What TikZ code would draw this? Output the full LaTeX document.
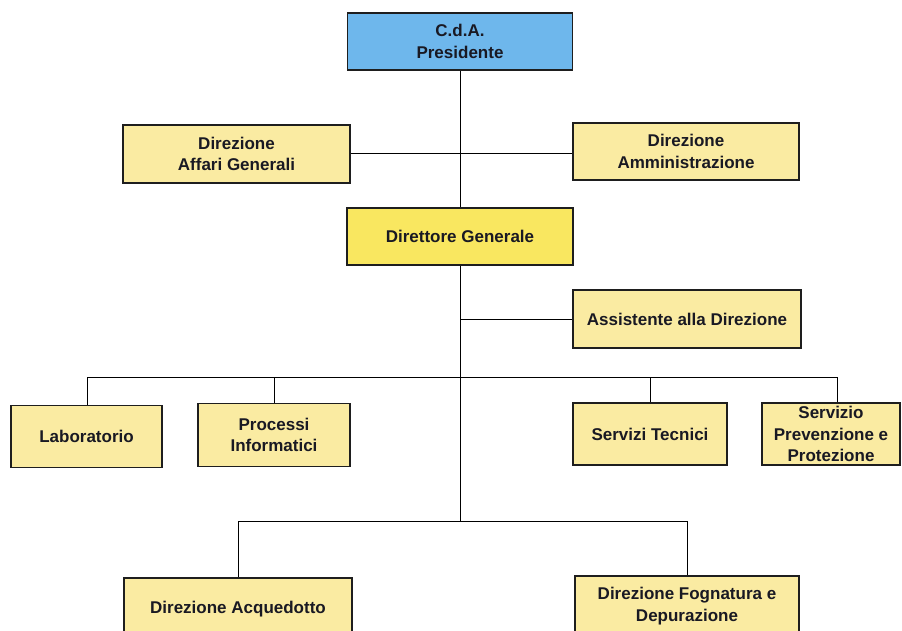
\documentclass[tikz,border=0pt]{standalone}
\usepackage{fontspec}
\setmainfont{Liberation Sans}
\definecolor{boxblue}{RGB}{110,183,236}
\definecolor{paleyellow}{RGB}{250,235,162}
\definecolor{dgyellow}{RGB}{249,231,96}
\definecolor{edge}{RGB}{30,30,30}
\definecolor{txt}{RGB}{25,25,35}
\begin{document}
\begin{tikzpicture}[x=1pt,y=-1pt,
  orgbox/.style={draw=edge,line width=1.6pt,fill=paleyellow,align=center,
    inner sep=0pt,text=txt,font=\fontsize{17}{21.5}\selectfont\bfseries},
  link/.style={draw=black,line width=0.9pt}]
\useasboundingbox (0,0) rectangle (902,630);
\clip (0,0) rectangle (902,630);
\fill[white] (0,0) rectangle (902,630);

\node[orgbox,fill=boxblue,minimum width=225,minimum height=57] (pres) at (460,41.5) {C.d.A.\\Presidente};
\node[orgbox,minimum width=227,minimum height=58] (ag) at (236.5,154) {Direzione\\Affari Generali};
\node[orgbox,minimum width=226,minimum height=57] (am) at (686,151.5) {Direzione\\Amministrazione};
\node[orgbox,fill=dgyellow,minimum width=226,minimum height=57] (dg) at (460,236.5) {Direttore Generale};
\node[orgbox,minimum width=228,minimum height=58] (as) at (687,319) {Assistente alla Direzione};
\node[orgbox,minimum width=151,minimum height=62] (lab) at (86.5,436.5) {Laboratorio};
\node[orgbox,minimum width=152,minimum height=63] (pi) at (274,435) {Processi\\Informatici};
\node[orgbox,minimum width=154,minimum height=62] (st) at (650,434) {Servizi Tecnici};
\node[orgbox,minimum width=138,minimum height=62] (spp) at (831,434) {Servizio\\Prevenzione e\\Protezione};
\node[orgbox,minimum width=228,minimum height=62] (aq) at (238,609) {Direzione Acquedotto};
\node[orgbox,minimum width=224,minimum height=60] (fd) at (687,606) {Direzione Fognatura e\\Depurazione};

% junction coordinates
\coordinate (jH) at (460,153);
\coordinate (jAs) at (460,319);
\coordinate (jLow) at (460,521);
\coordinate (hL) at (87,377);
\coordinate (hR) at (837,377);
\coordinate (lL) at (238,521);
\coordinate (lR) at (687,521);

\draw[link] (pres.south) -- (dg.north);
\draw[link] (ag.east |- jH) -- (am.west |- jH);
\draw[link] (dg.south) -- (jLow);
\draw[link] (jAs) -- (as.west);
\draw[link] (hL) -- (hR);
\draw[link] (hL) -- (lab.north -| hL);
\draw[link] (pi.north |- hL) -- (pi.north);
\draw[link] (st.north |- hL) -- (st.north);
\draw[link] (hR) -- (spp.north -| hR);
\draw[link] (lL) -- (lR);
\draw[link] (lL) -- (aq.north);
\draw[link] (lR) -- (fd.north);
\end{tikzpicture}
\end{document}
